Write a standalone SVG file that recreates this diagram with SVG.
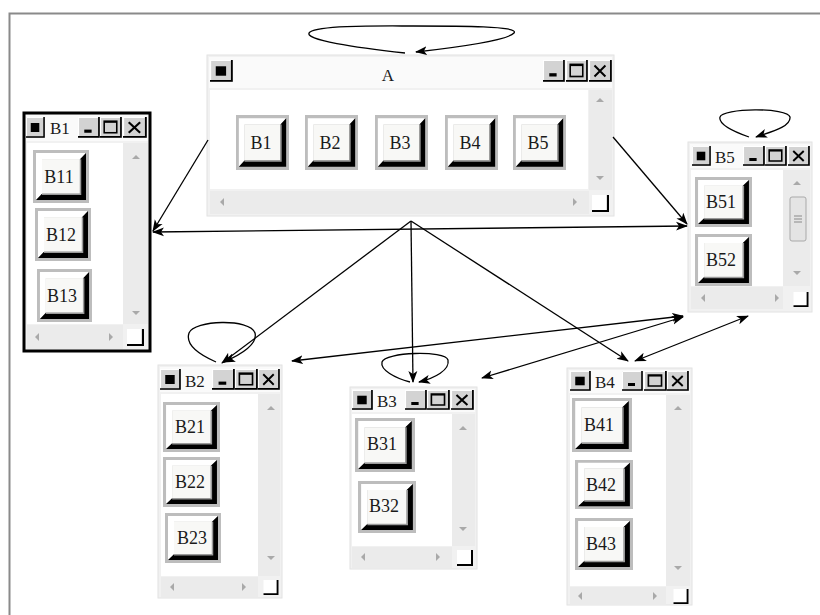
<svg xmlns="http://www.w3.org/2000/svg" xmlns:xlink="http://www.w3.org/1999/xlink" width="820" height="615" viewBox="0 0 820 615">
  <style>
    .win { fill: #f1f1f1; stroke: #e2e2e2; stroke-width: 1; }
    .win-focus { fill: #f1f1f1; stroke: #000; stroke-width: 3; }
    .title { fill: #fafafa; }
    .client { fill: #ffffff; }
    .sb { fill: #ebebeb; }
    .tri { fill: #a9a9a9; }
    .lbl { font-family: "Liberation Serif", "Times New Roman", serif; font-size: 18px; fill: #1a1a1a; text-anchor: middle; }
    .ttl { font-family: "Liberation Serif", "Times New Roman", serif; font-size: 17px; fill: #1a1a1a; }
    .edge { fill: none; stroke: #000; stroke-width: 1.3; }
    .one { marker-end: url(#ah); }
    .two { marker-start: url(#ah); marker-end: url(#ah); }
  </style>
  <defs>
    <marker id="ah" viewBox="0 0 12 10" refX="11" refY="5" markerWidth="12" markerHeight="10" markerUnits="userSpaceOnUse" orient="auto-start-reverse">
      <path d="M0,0.5 L12,5 L0,9.5 L3,5 z" fill="#000"/>
    </marker>
    <!-- caption bar pieces -->
    <symbol id="sys" viewBox="0 0 20 21" preserveAspectRatio="none">
      <rect width="20" height="21" fill="#d3d3d3"/>
      <path d="M0.5,20.5 V0.5 H19.5" stroke="#fff" fill="none"/>
      <path d="M0,20 H19 V0" stroke="#000" stroke-width="1.6" fill="none"/>
      <rect x="5" y="6" width="9" height="9" fill="#000"/>
    </symbol>
    <symbol id="cmin" viewBox="0 0 21 20" preserveAspectRatio="none">
      <rect width="21" height="20" fill="#d3d3d3"/>
      <path d="M0.5,19.5 V0.5 H20.5" stroke="#fff" fill="none"/>
      <path d="M0,19 H20 V0" stroke="#000" stroke-width="1.6" fill="none"/>
      <rect x="6" y="12" width="7" height="3" fill="#000"/>
    </symbol>
    <symbol id="cmax" viewBox="0 0 21 20" preserveAspectRatio="none">
      <rect width="21" height="20" fill="#d3d3d3"/>
      <path d="M0.5,19.5 V0.5 H20.5" stroke="#fff" fill="none"/>
      <path d="M0,19 H20 V0" stroke="#000" stroke-width="1.6" fill="none"/>
      <rect x="4" y="4" width="12" height="11" fill="none" stroke="#000" stroke-width="1.5"/>
      <path d="M4,4.8 H16" stroke="#000" stroke-width="1.5"/>
    </symbol>
    <symbol id="cclose" viewBox="0 0 21 20" preserveAspectRatio="none">
      <rect width="21" height="20" fill="#d3d3d3"/>
      <path d="M0.5,19.5 V0.5 H20.5" stroke="#fff" fill="none"/>
      <path d="M0,19 H20 V0" stroke="#000" stroke-width="1.6" fill="none"/>
      <path d="M5,5 L15,15 M15,5 L5,15" stroke="#000" stroke-width="1.8"/>
    </symbol>
    <symbol id="corner" viewBox="0 0 16 16">
      <rect width="16" height="16" fill="#fff"/>
      <path d="M0,15 H15 V0" stroke="#000" stroke-width="2" fill="none"/>
    </symbol>
    <!-- raised push button -->
    <symbol id="btn" viewBox="0 0 56 52" preserveAspectRatio="none">
      <rect width="56" height="52" fill="#bdbdbd"/>
      <polygon points="3,3 53,3 47,9 9,9 9,43 3,49" fill="#fff"/>
      <polygon points="53,3 53,49 3,49 9,43 47,43 47,9" fill="#000"/>
      <rect x="9" y="9" width="38" height="34" fill="#f8f8f6"/>
      <path d="M9,43.5 H47.5 V9" stroke="#9a9a9a" fill="none" stroke-width="1.5"/>
    </symbol>
    <path id="up" d="M-4,2 L0,-2 L4,2 z"/>
    <path id="down" d="M-4,-2 L0,2 L4,-2 z"/>
    <path id="left" d="M2,-4 L-2,0 L2,4 z"/>
    <path id="right" d="M-2,-4 L2,0 L-2,4 z"/>
  </defs>

  <rect width="820" height="615" fill="#fff"/>
  <!-- canvas frame -->
  <path d="M9.5,615 V13.5 H820" fill="none" stroke="#8a8a8a" stroke-width="2"/>

  <!-- window A -->
  <g id="A">
    <rect class="win" x="207" y="55" width="407" height="161"/>
    <rect class="title" x="209" y="57" width="403" height="31"/>
    <use href="#sys" x="210" y="60" width="23" height="22"/>
    <text class="ttl" x="388" y="81" text-anchor="middle" font-size="15">A</text>
    <use href="#cmin" x="543" y="60" width="22" height="22"/>
    <use href="#cmax" x="566" y="60" width="22" height="22"/>
    <use href="#cclose" x="589" y="60" width="23" height="22"/>
    <rect class="client" x="210" y="90" width="378" height="99"/>
    <rect class="sb" x="589" y="90" width="23" height="100"/>
    <rect class="sb" x="210" y="191" width="379" height="23"/>
    <use href="#up" class="tri" x="600" y="100"/>
    <use href="#down" class="tri" x="600" y="178"/>
    <use href="#left" class="tri" x="222" y="202"/>
    <use href="#right" class="tri" x="575" y="202"/>
    <use href="#corner" x="592" y="195" width="17" height="17"/>
    <use href="#btn" x="236" y="115" width="53" height="55"/>
    <use href="#btn" x="305" y="115" width="53" height="55"/>
    <use href="#btn" x="375" y="115" width="53" height="55"/>
    <use href="#btn" x="445" y="115" width="53" height="55"/>
    <use href="#btn" x="513" y="115" width="53" height="55"/>
    <text class="lbl" x="261" y="149">B1</text>
    <text class="lbl" x="330" y="149">B2</text>
    <text class="lbl" x="400" y="149">B3</text>
    <text class="lbl" x="470" y="149">B4</text>
    <text class="lbl" x="538" y="149">B5</text>
  </g>

  <!-- window B1 (focused) -->
  <g id="B1">
    <rect class="win-focus" x="24" y="113" width="126" height="238"/>
    <rect class="title" x="26" y="115" width="122" height="26"/>
    <use href="#sys" x="26" y="117" width="19" height="21"/>
    <text class="ttl" x="50" y="134">B1</text>
    <use href="#cmin" x="78" y="117" width="22" height="21"/>
    <use href="#cmax" x="100" y="117" width="22" height="21"/>
    <use href="#cclose" x="123" y="117" width="24" height="21"/>
    <rect class="client" x="27" y="143" width="96" height="181"/>
    <rect class="sb" x="123" y="143" width="25" height="181"/>
    <rect class="sb" x="27" y="325" width="96" height="24"/>
    <use href="#up" class="tri" x="136" y="157"/>
    <use href="#down" class="tri" x="136" y="313"/>
    <use href="#left" class="tri" x="37" y="337"/>
    <use href="#right" class="tri" x="111" y="337"/>
    <use href="#corner" x="127" y="329" width="17" height="17"/>
    <use href="#btn" x="33" y="150" width="56" height="53"/>
    <use href="#btn" x="35" y="208" width="56" height="53"/>
    <use href="#btn" x="37" y="269" width="55" height="53"/>
    <text class="lbl" x="59" y="183">B11</text>
    <text class="lbl" x="61" y="241">B12</text>
    <text class="lbl" x="62" y="302">B13</text>
  </g>

  <!-- window B5 -->
  <g id="B5">
    <rect class="win" x="688" y="142" width="124" height="170"/>
    <rect class="title" x="690" y="144" width="120" height="24"/>
    <use href="#sys" x="692" y="146" width="19" height="20"/>
    <text class="ttl" x="715" y="163">B5</text>
    <use href="#cmin" x="743" y="146" width="22" height="20"/>
    <use href="#cmax" x="765" y="146" width="22" height="20"/>
    <use href="#cclose" x="788" y="146" width="22" height="20"/>
    <rect class="client" x="691" y="170" width="92" height="116"/>
    <rect class="sb" x="783" y="170" width="27" height="116"/>
    <rect class="sb" x="691" y="287" width="92" height="22"/>
    <use href="#up" class="tri" x="797" y="183"/>
    <use href="#down" class="tri" x="797" y="273"/>
    <rect x="790" y="197" width="16" height="44" rx="2" fill="#e4e4e4" stroke="#a9a9a9"/>
    <path d="M794,216 H802 M794,219 H802 M794,222 H802" stroke="#8a8a8a" stroke-width="1"/>
    <use href="#left" class="tri" x="703" y="298"/>
    <use href="#right" class="tri" x="777" y="298"/>
    <use href="#corner" x="793" y="292" width="16" height="15"/>
    <use href="#btn" x="695" y="177" width="57" height="50"/>
    <use href="#btn" x="695" y="234" width="57" height="52"/>
    <text class="lbl" x="721" y="208">B51</text>
    <text class="lbl" x="721" y="266">B52</text>
  </g>

  <!-- window B2 -->
  <g id="B2">
    <rect class="win" x="158" y="365" width="124" height="233"/>
    <rect class="title" x="160" y="367" width="120" height="25"/>
    <use href="#sys" x="160" y="369" width="21" height="21"/>
    <text class="ttl" x="185" y="387">B2</text>
    <use href="#cmin" x="212" y="369" width="23" height="21"/>
    <use href="#cmax" x="235" y="369" width="23" height="21"/>
    <use href="#cclose" x="258" y="369" width="22" height="21"/>
    <rect class="client" x="161" y="394" width="97" height="182"/>
    <rect class="sb" x="258" y="394" width="22" height="182"/>
    <rect class="sb" x="161" y="577" width="97" height="20"/>
    <use href="#up" class="tri" x="271" y="408"/>
    <use href="#down" class="tri" x="271" y="558"/>
    <use href="#left" class="tri" x="172" y="587"/>
    <use href="#right" class="tri" x="244" y="587"/>
    <use href="#corner" x="263" y="580" width="16" height="15"/>
    <use href="#btn" x="163" y="402" width="57" height="50"/>
    <use href="#btn" x="163" y="457" width="57" height="50"/>
    <use href="#btn" x="165" y="513" width="56" height="50"/>
    <text class="lbl" x="190" y="433">B21</text>
    <text class="lbl" x="190" y="488">B22</text>
    <text class="lbl" x="192" y="544">B23</text>
  </g>

  <!-- window B3 -->
  <g id="B3">
    <rect class="win" x="350" y="387" width="127" height="182"/>
    <rect class="title" x="352" y="389" width="123" height="23"/>
    <use href="#sys" x="352" y="390" width="21" height="20"/>
    <text class="ttl" x="377" y="407">B3</text>
    <use href="#cmin" x="405" y="390" width="22" height="20"/>
    <use href="#cmax" x="427" y="390" width="23" height="20"/>
    <use href="#cclose" x="451" y="390" width="23" height="20"/>
    <rect class="client" x="352" y="414" width="100" height="132"/>
    <rect class="sb" x="452" y="414" width="23" height="132"/>
    <rect class="sb" x="352" y="547" width="100" height="21"/>
    <use href="#up" class="tri" x="463" y="428"/>
    <use href="#down" class="tri" x="463" y="529"/>
    <use href="#left" class="tri" x="363" y="557"/>
    <use href="#right" class="tri" x="438" y="557"/>
    <use href="#corner" x="457" y="550" width="16" height="16"/>
    <use href="#btn" x="355" y="418" width="60" height="54"/>
    <use href="#btn" x="358" y="481" width="58" height="52"/>
    <text class="lbl" x="382" y="450">B31</text>
    <text class="lbl" x="384" y="512">B32</text>
  </g>

  <!-- window B4 -->
  <g id="B4">
    <rect class="win" x="567" y="368" width="125" height="237"/>
    <rect class="title" x="569" y="370" width="121" height="23"/>
    <use href="#sys" x="570" y="371" width="21" height="20"/>
    <text class="ttl" x="595" y="388">B4</text>
    <use href="#cmin" x="622" y="371" width="21" height="20"/>
    <use href="#cmax" x="644" y="371" width="23" height="20"/>
    <use href="#cclose" x="667" y="371" width="22" height="20"/>
    <rect class="client" x="570" y="395" width="96" height="191"/>
    <rect class="sb" x="666" y="395" width="24" height="191"/>
    <rect class="sb" x="570" y="587" width="96" height="18"/>
    <use href="#up" class="tri" x="678" y="408"/>
    <use href="#down" class="tri" x="678" y="568"/>
    <use href="#left" class="tri" x="580" y="596"/>
    <use href="#right" class="tri" x="655" y="596"/>
    <use href="#corner" x="673" y="589" width="16" height="15"/>
    <use href="#btn" x="572" y="398" width="60" height="54"/>
    <use href="#btn" x="575" y="460" width="58" height="49"/>
    <use href="#btn" x="575" y="518" width="58" height="52"/>
    <text class="lbl" x="599" y="431">B41</text>
    <text class="lbl" x="601" y="491">B42</text>
    <text class="lbl" x="601" y="550">B43</text>
  </g>

  <!-- connectors -->
  <g id="edges">
    <!-- self loops -->
    <path class="edge one" d="M405,53 C360,48 300,40 310,32 C320,25 380,26 413,26 C460,26 520,26 514,33 C508,40 460,47 416,52"/>
    <path class="edge one" d="M216,362 C200,355 185,345 189,333 C194,320 250,318 255,333 C258,345 240,355 224,362"/>
    <path class="edge one" d="M410,382 C395,378 380,370 382,362 C385,352 445,350 448,360 C450,370 435,378 419,382"/>
    <path class="edge one" d="M749,137 C735,132 718,125 720,117 C722,108 788,107 790,117 C791,127 770,132 756,137"/>
    <!-- A to children -->
    <path class="edge one" d="M208,140 L153,231"/>
    <path class="edge one" d="M613,137 L687,224"/>
    <path class="edge one" d="M411,221 L222,363"/>
    <path class="edge one" d="M411,221 L413,382"/>
    <path class="edge one" d="M411,221 L628,361"/>
    <!-- sibling links -->
    <path class="edge two" d="M153,232 L687,226"/>
    <path class="edge two" d="M292,361 L683,316"/>
    <path class="edge two" d="M482,378 L683,317"/>
    <path class="edge two" d="M635,361 L748,316"/>
  </g>
</svg>
